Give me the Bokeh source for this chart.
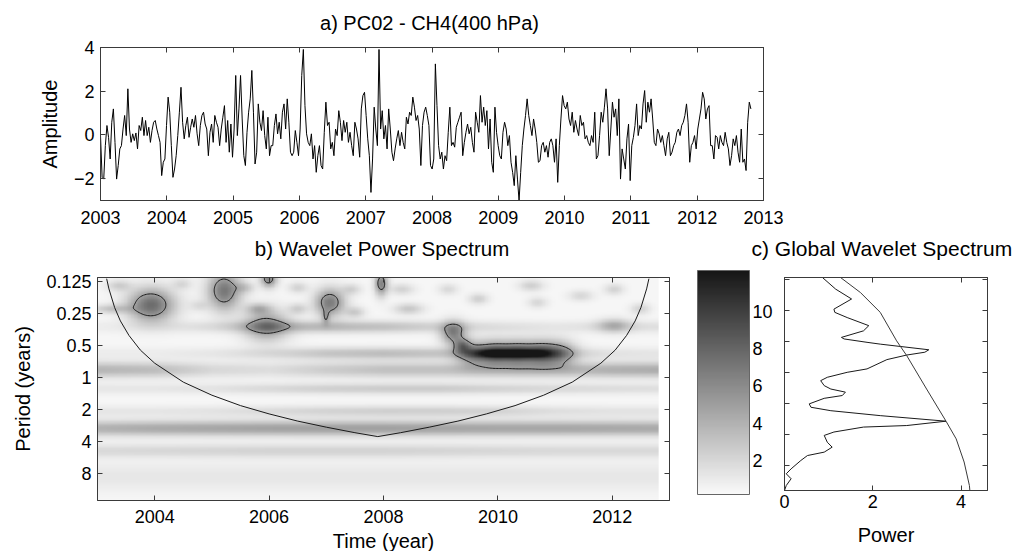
import numpy as np
import contourpy
from bokeh.plotting import figure
from bokeh.layouts import column, row
from bokeh.models import Range1d, FixedTicker, LinearColorMapper, ColorBar, LinearAxis, Label
from bokeh.embed import file_html
from bokeh.resources import INLINE

FONT = "Liberation Sans"
AX = "#3a3a3a"
PAGE_W = 1012
STRIP_LEFT = 100

# ---------------- panel a: PC02 time series ----------------
series_start = 2003.0
series_end = 2012.81
amplitude = [
    -0.03, -1.94, -2.02, -0.49, 0.43, -0.11, -1.10, 0.58, 1.19, -0.34,
    -2.02, -1.40, -0.64, -0.49, 0.27, 0.89, -0.03, 2.11, 0.27, -0.34,
    0.05, -0.26, 0.09, -0.64, 0.43, 0.20, 0.81, -0.03, 0.66, -0.03,
    0.35, -0.34, 0.20, 0.58, 0.66, 0.27, -0.03, -0.34, -1.86, -1.25,
    -1.10, 0.43, 1.73, 1.04, -0.49, -1.94, -1.56, -0.95, -0.03, 1.04,
    2.18, 0.58, -0.18, 0.43, 0.81, -0.11, 0.35, 0.73, 0.35, 0.89,
    0.05, -0.49, 0.43, 0.89, 1.04, 0.50, 0.27, -0.95, 0.12, 0.50,
    -0.34, 0.89, 0.58, 0.35, -0.49, 0.27, 0.81, 1.34, -0.34, 0.66,
    -0.79, 0.50, -1.02, 0.27, 2.72, -0.03, 1.19, 2.72, 0.73, -0.95,
    -1.40, 0.12, 1.04, 1.65, 2.95, 1.04, -1.33, -0.79, 1.42, 0.58,
    0.20, 1.11, -0.03, -0.64, 0.81, -0.95, -0.49,
    -0.49, 0.43, 0.96, 0.05, 0.58, -0.18, 1.04, 1.42, 0.27, 1.65,
    0.58, -0.79, -0.95, -0.79, 0.20, -0.34, -0.95, 0.27, 2.72, 3.91,
    1.34, 0.05, -0.34, -0.49, 0.05, -1.10, -0.49, -1.71, -0.95, -0.49,
    -1.40, -1.56, 0.12, 1.50, 0.43, 0.58, -0.64, -0.34, -0.95, 0.27,
    -0.03, 1.11, 0.58, -0.26, 0.66, 0.12, 0.58, -0.34, 0.12, -0.49,
    -0.95, 0.58, 0.27, -0.18, -1.02, 1.19, 1.80, 1.95, 0.89, -0.18,
    -0.95, -2.63, -1.10, 1.27, 0.27, -0.49, 3.91, 0.27, 1.11, -0.18,
    0.43, -0.64, 1.19, 0.27, -0.79, -1.18, -0.64, -0.18, 0.20, -0.49,
    0.12, -0.34, -0.64, 0.81, 0.50, 1.04, 0.89, 1.73, 1.27, 0.66,
    0.89, 0.27, -1.40, 0.43, 1.04, 1.27, 0.89, 0.43, -1.40, -1.56,
    -1.10, 3.25, 1.34, -0.49, -1.10, -0.79, -1.56, -0.95, -1.18, 0.12,
    1.27, -0.49, -0.34, -0.56, 0.35, 0.58, 0.81, 1.04, -0.95, -0.34,
    0.12, 0.50, 0.05, 0.35, -0.34, -0.79, 1.04, 0.58, 0.12, 1.80,
    0.58, 1.27, 0.43, 1.11, -0.64, 0.73, -1.25, -1.71, 1.27, 0.12,
    -0.49, -0.95, -1.10, 0.12, 0.58, 0.27, -0.49, -0.03, -1.25, -1.71,
    -2.32, -0.95, -2.02, -3.01, -1.71, -0.49, 0.27, 0.89, 1.65, 0.89,
    0.43, -0.03, 0.73, 0.27, -0.34, -1.25, -1.18, -0.49, -0.34, -0.79,
    -0.49, -1.02, -0.34, -0.18, -0.49, -1.25, -0.18, -2.17, -0.49, 0.73,
    1.80, 1.34, 1.19, 1.50, 0.73, 0.43, 1.04, 0.12, 0.66, 0.27,
    -0.03, 0.89, 0.43, 0.58, -0.18, -0.03, -0.34, -0.49, -0.03, -0.34,
    1.04, -1.10,
    -0.95, -0.03, 1.04, 0.58, 1.27, 2.11, 1.19, -0.95, 0.27, 1.50,
    0.81, 1.19, -0.03, 1.65, -2.02, -0.64, -1.10, -1.56, -0.18, 0.50,
    -2.09, -0.49, -0.11, 0.43, 1.42, -0.03, 0.43, 0.27, 1.42, 2.03,
    0.58, 1.50, 1.04, 1.65, 0.73, -0.34, -0.49, 0.27, 0.05, -0.34,
    -0.03, -0.49, -0.95, -0.18, 0.12, -0.95, -0.79, -0.49, -0.34, 0.12,
    0.27, -0.03, 0.43, 0.58, 0.89, 1.42, 0.58, -1.25, -0.49, -0.34,
    -0.03, -0.64, 0.27, 0.73, 1.19, 1.95, 1.65, 0.73, 1.19, 1.34,
    -0.49, -0.49, -1.10, -0.03, -0.11, -0.64, -0.03, -0.34, -0.49, 0.12,
    -0.34, -0.64, -1.40, -0.95, -0.18, -0.49, -0.03, -0.79, -1.25, 0.27,
    -1.25, -1.10, -1.63, 0.58, 1.50, 1.19,
]
year_ticks_a = [2003, 2004, 2005, 2006, 2007, 2008, 2009, 2010, 2011, 2012, 2013]
amp_ticks = [-2, 0, 2, 4]

# ---------------- panel b: wavelet power (features) ----------------
year_ticks_b = [2004, 2006, 2008, 2010, 2012]
period_ticks = [0.125, 0.25, 0.5, 1, 2, 4, 8]
period_labels = ["0.125", "0.25", "0.5", "1", "2", "4", "8"]
period_top, period_bottom = 0.114, 14.3

knot_years = [2003, 2004, 2005, 2006, 2007, 2008, 2009, 2010, 2011, 2012, 2013]
band_periods = [3.0, 2.07, 0.84, 1.27, 0.59, 0.33, 4.9, 8.6]
band_octave_width = [0.17, 0.12, 0.17, 0.12, 0.13, 0.13, 0.15, 0.30]
band_power = [
    [3.6, 4.0, 4.2, 4.4, 4.5, 4.5, 4.3, 4.2, 4.2, 4.1, 4.0],
    [0.8, 0.8, 1.0, 1.4, 1.8, 2.0, 2.0, 1.8, 1.2, 1.0, 1.0],
    [3.4, 3.0, 1.6, 1.3, 2.2, 2.8, 2.8, 2.8, 3.0, 3.7, 3.9],
    [0.8, 0.8, 1.0, 1.5, 2.0, 2.2, 2.2, 1.8, 1.5, 1.3, 1.2],
    [0.5, 0.5, 0.8, 1.5, 2.6, 3.0, 2.6, 2.5, 2.0, 1.0, 0.8],
    [0.5, 0.6, 1.4, 3.0, 3.2, 2.8, 1.8, 1.2, 0.8, 1.2, 1.2],
    [1.5, 1.6, 1.7, 1.8, 1.8, 1.8, 1.7, 1.6, 1.5, 1.5, 1.5],
    [0.8, 0.8, 0.8, 0.8, 0.8, 0.8, 0.8, 0.8, 0.8, 0.8, 0.8],
]
base_power = 0.4
# localized patches: year, period, time width (yr), octave width, power
blob_years = [2003.93, 2005.21, 2005.95, 2005.99, 2007.06, 2006.99, 2007.96,
              2009.55, 2009.95, 2010.35, 2010.75, 2011.10,
              2009.85, 2010.25, 2010.65,
              2009.22, 2009.38, 2012.04,
              2003.36, 2003.24, 2004.47, 2004.76, 2005.57, 2005.81, 2006.50, 2006.50,
              2007.44, 2007.50, 2008.32, 2008.44, 2009.13, 2009.66, 2010.59, 2010.70,
              2011.46, 2012.04, 2012.50]
blob_periods = [0.206, 0.151, 0.321, 0.117, 0.195, 0.27, 0.129,
                0.59, 0.59, 0.59, 0.59, 0.59,
                0.59, 0.59, 0.59,
                0.379, 0.50, 0.321,
                0.135, 0.224, 0.130, 0.209, 0.141, 0.224, 0.141, 0.224,
                0.146, 0.241, 0.146, 0.224, 0.146, 0.180, 0.135, 0.195,
                0.168, 0.146, 0.224]
blob_time_width = [0.28, 0.20, 0.27, 0.10, 0.18, 0.05, 0.08,
                   0.20, 0.20, 0.20, 0.20, 0.20,
                   0.22, 0.22, 0.22,
                   0.15, 0.10, 0.20,
                   0.15, 0.25, 0.12, 0.12, 0.12, 0.15, 0.12, 0.12,
                   0.12, 0.12, 0.15, 0.18, 0.12, 0.12, 0.15, 0.12,
                   0.15, 0.12, 0.12]
blob_octave_width = [0.36, 0.42, 0.34, 0.18, 0.30, 0.15, 0.26,
                     0.28, 0.28, 0.28, 0.28, 0.28,
                     0.10, 0.10, 0.10,
                     0.25, 0.15, 0.15,
                     0.12, 0.10, 0.12, 0.12, 0.12, 0.12, 0.12, 0.12,
                     0.12, 0.12, 0.12, 0.12, 0.12, 0.12, 0.12, 0.12,
                     0.12, 0.12, 0.12]
blob_power = [7.2, 6.6, 5.0, 6.0, 6.4, 3.0, 6.0,
              4.8, 6.2, 6.2, 6.2, 4.8,
              3.3, 3.8, 3.3,
              5.8, 4.5, 3.0,
              2.0, 2.5, 1.5, 1.2, 2.0, 3.0, 1.8, 2.0,
              1.8, 2.2, 1.8, 2.4, 1.5, 2.0, 2.0, 1.6,
              1.6, 1.8, 1.8]
significance_level = 5.0
power_low, power_high = 0.17, 12.2
colorbar_ticks = [2, 4, 6, 8, 10]

coi_years = [2003.16, 2003.2, 2003.3, 2003.4, 2003.55, 2003.75, 2004.0, 2004.5, 2005.0,
             2005.5, 2006.0, 2006.5, 2007.0, 2007.5, 2007.9, 2008.3, 2008.8, 2009.3,
             2009.8, 2010.3, 2010.8, 2011.3, 2011.8, 2012.05, 2012.25, 2012.4, 2012.5,
             2012.6, 2012.64]
coi_periods = [0.117, 0.146, 0.219, 0.292, 0.40, 0.55, 0.73, 1.10, 1.46,
               1.83, 2.19, 2.56, 2.92, 3.29, 3.58, 3.29, 2.92, 2.56,
               2.19, 1.83, 1.46, 1.10, 0.73, 0.55, 0.40, 0.292, 0.219,
               0.146, 0.117]

# ---------------- panel c: global wavelet spectrum ----------------
gws_periods = [0.1186, 0.154, 0.192, 0.241, 0.259, 0.291, 0.349, 0.392, 0.454, 0.470,
               0.507, 0.528, 0.599, 0.633, 0.674, 0.747, 0.920, 0.993, 1.110, 1.197,
               1.338, 1.444, 1.548, 1.670, 1.778, 2.014, 2.173, 2.346, 2.621, 2.969,
               3.272, 3.387, 3.784, 4.084, 4.757, 5.315, 5.938, 6.409, 7.161, 8.634,
               9.646, 10.78, 12.55, 14.03]
gws_power = [0.86, 1.16, 1.52, 1.12, 1.14, 1.42, 1.91, 1.79, 1.29, 1.35,
             1.87, 2.17, 3.27, 3.18, 2.77, 2.32, 1.87, 1.42, 0.97, 0.82,
             0.90, 1.05, 1.38, 1.31, 0.90, 0.56, 0.60, 1.05, 2.17, 3.66,
             2.77, 1.79, 1.12, 0.90, 0.97, 1.08, 0.90, 0.52, 0.37, 0.15,
             0.04, 0.15, 0.04, 0.0]
sig_periods = [0.1186, 0.166, 0.259, 0.490, 0.683, 1.444, 2.969, 4.41, 7.41, 12.55, 14.03]
sig_power = [1.27, 1.72, 2.17, 2.54, 2.77, 3.22, 3.66, 3.89, 4.07, 4.19, 4.20]
power_ticks = [0, 2, 4]
power_max = 4.6


# ---------------- helpers ----------------
def lp(periods):
    """vertical coordinate: -log2(period), so short periods are on top"""
    return (-np.log2(np.asarray(periods, dtype=float))).tolist()


def make_fig(fw, fh, xr, yr, left, right, top, bottom):
    p = figure(frame_width=fw, frame_height=fh, x_range=xr, y_range=yr,
               output_backend="svg", toolbar_location=None,
               min_border_left=left, min_border_right=right,
               min_border_top=top, min_border_bottom=bottom)
    p.grid.visible = False
    p.outline_line_color = AX
    p.outline_line_width = 1
    p.background_fill_color = "white"
    p.border_fill_color = "white"
    return p


def title_strip(h):
    # a blank strip whose x coordinate equals the page pixel; it carries the panel headings
    s = figure(frame_width=PAGE_W - STRIP_LEFT, frame_height=h,
               x_range=Range1d(STRIP_LEFT, PAGE_W), y_range=Range1d(0, h),
               output_backend="svg", toolbar_location=None,
               min_border_left=STRIP_LEFT, min_border_right=0, min_border_top=0,
               min_border_bottom=0, x_axis_location=None, y_axis_location=None)
    s.grid.visible = False
    s.outline_line_color = None
    s.background_fill_color = "white"
    s.border_fill_color = "white"
    return s


def add_heading(s, text, size, x, y, align="center"):
    s.add_layout(Label(x=x, y=y, text=text, text_font=FONT, text_font_size=size,
                       text_color="black", text_align=align, text_baseline="middle"))


def style_axis(ax, ticks, labels=True, overrides=None, standoff=6):
    ax.ticker = FixedTicker(ticks=ticks)
    ax.major_tick_in = 5
    ax.major_tick_out = 0
    ax.minor_tick_line_color = None
    ax.axis_line_color = AX
    ax.major_tick_line_color = AX
    if labels:
        ax.major_label_text_font = FONT
        ax.major_label_text_font_size = "18px"
        ax.major_label_text_color = "black"
        ax.major_label_standoff = standoff
    else:
        ax.major_label_text_font_size = "1px"
        ax.major_label_text_color = None
        ax.major_label_standoff = 0
    if overrides:
        ax.major_label_overrides = overrides
    ax.axis_label_text_font = FONT
    ax.axis_label_text_font_size = "20px"
    ax.axis_label_text_font_style = "normal"
    ax.axis_label_text_color = "black"


def add_box_axes(p, xticks, yticks):
    top = LinearAxis()
    style_axis(top, xticks, labels=False)
    p.add_layout(top, "above")
    right = LinearAxis()
    style_axis(right, yticks, labels=False)
    p.add_layout(right, "right")


# ---------------- headings ----------------
strip_a = title_strip(36)
add_heading(strip_a, "a) PC02 - CH4(400 hPa)", "20px", 429, 36 - 22.5)
strip_bc = title_strip(33)
add_heading(strip_bc, "b) Wavelet Power Spectrum", "20.5px", 381.5, 33 - 16.5)
add_heading(strip_bc, "c) Global Wavelet Spectrum", "21px", 751, 33 - 17, align="left")

# ---------------- panel a ----------------
t = np.linspace(series_start, series_end, len(amplitude))
pa = make_fig(663, 153, Range1d(2003, 2013), Range1d(-3, 4), 100, 240, 11, 31)
pa.line(t, amplitude, line_color="black", line_width=1)
style_axis(pa.xaxis[0], year_ticks_a, standoff=10)
style_axis(pa.yaxis[0], amp_ticks, standoff=6)
pa.yaxis[0].axis_label = "Amplitude"
pa.yaxis[0].axis_label_standoff = 10
add_box_axes(pa, year_ticks_a, amp_ticks)

# ---------------- panel b ----------------
y_top, y_bottom = lp([period_top])[0], lp([period_bottom])[0]
tg = np.linspace(series_start, series_end, 393)
yg = np.linspace(y_bottom, y_top, 280)
T, Y = np.meshgrid(tg, yg)
S = -Y  # log2(period)
field = np.full(T.shape, base_power)
for per, w, knots in zip(band_periods, band_octave_width, band_power):
    prof = np.interp(tg, knot_years, knots)
    field += prof[None, :] * np.exp(-0.5 * ((S - np.log2(per)) / w) ** 2)
for by, bp, tw, ow, a in zip(blob_years, blob_periods, blob_time_width, blob_octave_width, blob_power):
    field += a * np.exp(-0.5 * ((T - by) / tw) ** 2 - 0.5 * ((S - np.log2(bp)) / ow) ** 2)

grays = ["#%02x%02x%02x" % (v, v, v) for v in np.linspace(250, 22, 256).round().astype(int)]
mapper = LinearColorMapper(palette=grays, low=power_low, high=power_high)

pb = make_fig(572, 223, Range1d(2003, 2013), Range1d(y_bottom, y_top), 97, 10, 7, 57)
pb.image(image=[field], x=series_start, y=y_bottom, dw=series_end - series_start,
         dh=y_top - y_bottom, color_mapper=mapper)

gen = contourpy.contour_generator(x=tg, y=yg, z=field)
lines = gen.lines(significance_level)
pb.multi_line([ln[:, 0].tolist() for ln in lines], [ln[:, 1].tolist() for ln in lines],
              line_color="#1a1a1a", line_width=1)
pb.line(coi_years, lp(coi_periods), line_color="#1a1a1a", line_width=1)

yt = lp(period_ticks)
style_axis(pb.xaxis[0], year_ticks_b, standoff=9)
style_axis(pb.yaxis[0], yt, overrides={v: s for v, s in zip(yt, period_labels)}, standoff=6)
pb.xaxis[0].axis_label = "Time (year)"
pb.xaxis[0].axis_label_standoff = 4
pb.yaxis[0].axis_label = "Period (years)"
pb.yaxis[0].axis_label_standoff = 9
add_box_axes(pb, year_ticks_b, yt)

# ---------------- panel c (colour bar drawn to the left of its frame) ----------------
yc_top, yc_bottom = lp([0.1186])[0], lp([14.03])[0]
pc = make_fig(203, 213, Range1d(0, power_max), Range1d(yc_bottom, yc_top), 105, 25, 13, 61)
pc.line(gws_power, lp(gws_periods), line_color="#1a1a1a", line_width=1)
pc.line(sig_power, lp(sig_periods), line_color="#3a3a3a", line_width=1)
style_axis(pc.xaxis[0], power_ticks, standoff=4)
pc.xaxis[0].axis_label = "Power"
pc.xaxis[0].axis_label_standoff = 13
style_axis(pc.yaxis[0], yt, labels=False)
add_box_axes(pc, power_ticks, yt)

cb = ColorBar(color_mapper=mapper, ticker=FixedTicker(ticks=colorbar_ticks),
              width=52, height=224, padding=0, margin=0, label_standoff=3,
              location=(-87, -4),
              major_tick_line_color=None, minor_tick_line_color=None,
              major_label_text_font=FONT, major_label_text_font_size="18px",
              major_label_text_color="black", bar_line_color="#666666",
              background_fill_color=None, border_line_color=None, orientation="vertical")
pc.add_layout(cb, "center")

layout = column(strip_a, pa, strip_bc, row(pb, pc))
open("out.html", "w").write(file_html(layout, INLINE))
